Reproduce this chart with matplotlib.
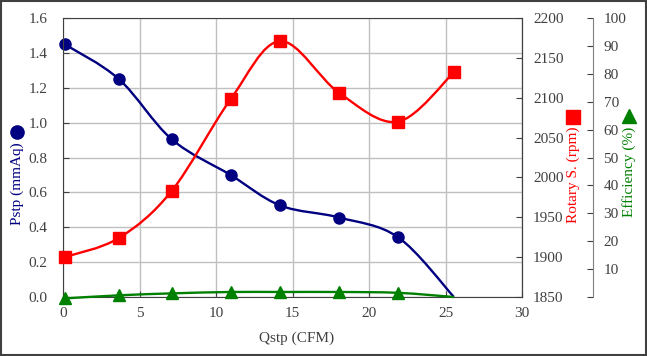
import numpy as np
import matplotlib.pyplot as plt
from matplotlib.path import Path
from matplotlib.patches import PathPatch, Rectangle

plt.rcParams['font.family'] = ['Liberation Serif', 'DejaVu Serif']

# 數據
qstp = [0.1, 3.65, 7.1, 10.95, 14.2, 18.05, 21.9, 25.55]
pstp = [1.45, 1.25, 0.905, 0.70, 0.525, 0.456, 0.343, 0.0]
rpm = [1900, 1924, 1983, 2098, 2171, 2106, 2070, 2132]
eff = [-0.5, 0.6, 1.3, 1.8, 1.8, 1.8, 1.5, 0.0]

NAVY = '#000080'
RED = '#FF0000'
GREEN = '#008000'


# 平滑曲線 (Bezier 路徑)
def smooth_patch(x, y, color, ax):
    pts = np.column_stack([x, y]).astype(float)
    n = len(pts)
    verts = [pts[0]]
    codes = [Path.MOVETO]
    for i in range(n - 1):
        p0 = pts[max(i - 1, 0)]
        p1 = pts[i]
        p2 = pts[i + 1]
        p3 = pts[min(i + 2, n - 1)]
        verts += [p1 + (p2 - p0) / 6, p2 - (p3 - p1) / 6, p2]
        codes += [Path.CURVE4] * 3
    patch = PathPatch(Path(verts, codes), facecolor='none', edgecolor=color,
                      linewidth=1.7, transform=ax.transData, clip_on=False)
    ax.add_patch(patch)


fig = plt.figure(figsize=(6.47, 3.56), dpi=100)
ax = fig.add_axes([0.0974, 0.1657, 0.7094, 0.7836])
ax2 = ax.twinx()
ax3 = ax.twinx()

ax.set_xlim(0, 30)
ax.set_ylim(0, 1.6)
ax.set_xticks(np.arange(0, 31, 5))
ax.set_yticks(np.arange(0, 1.61, 0.2))
ax.set_yticklabels([f'{v:.1f}' for v in np.arange(0, 1.61, 0.2)])
ax.grid(True, color='#c0c0c0', linewidth=1)
ax.set_axisbelow(True)

ax2.set_ylim(1850, 2200)
ax2.set_yticks(np.arange(1850, 2201, 50))

ax3.set_ylim(0, 100)
ax3.set_yticks(np.arange(0, 101, 10))
ax3.set_yticklabels([''] + [str(v) for v in range(10, 101, 10)])
ax3.spines['right'].set_position(('axes', 1.155))
ax3.spines['right'].set_color('#808080')
for a in (ax2, ax3):
    for s in ('left', 'top', 'bottom'):
        a.spines[s].set_visible(False)

for s in ax.spines.values():
    s.set_color('#404040')
ax2.spines['right'].set_color('#404040')

for a in (ax, ax2, ax3):
    a.tick_params(labelsize=11, labelcolor='#404040', direction='in', length=4, color='#404040')
ax.tick_params(axis='x', pad=7)
ax.tick_params(axis='y', pad=11)
ax2.tick_params(axis='y', pad=8)
ax3.tick_params(axis='y', pad=7.5)

# 曲線
smooth_patch(qstp, pstp, NAVY, ax)
smooth_patch(qstp, rpm, RED, ax2)
smooth_patch(qstp, eff, GREEN, ax3)
ax.plot(qstp[:-1], pstp[:-1], 'o', color=NAVY, markersize=8, linestyle='none', clip_on=False)
ax2.plot(qstp, rpm, 's', color=RED, markersize=8, linestyle='none', clip_on=False)
ax3.plot(qstp[:-1], eff[:-1], '^', color=GREEN, markersize=8, linestyle='none', clip_on=False)

# 標籤
fig.text(296.7 / 647, 1 - 338 / 356, 'Qstp (CFM)', fontsize=11, color='#404040', ha='center', va='center')
fig.text(17 / 647, 1 - 184 / 356, 'Pstp (mmAq)', fontsize=11, color=NAVY, rotation=90, ha='center', va='center')
fig.text(573 / 647, 1 - 175 / 356, 'Rotary S. (rpm)', fontsize=11, color=RED, rotation=90, ha='center', va='center')
fig.text(629 / 647, 1 - 172 / 356, 'Efficiency (%)', fontsize=11, color=GREEN, rotation=90, ha='center', va='center')
fig.lines.append(plt.Line2D([17 / 647], [1 - 132 / 356], marker='o', color=NAVY, markersize=9.5,
                            transform=fig.transFigure))
fig.lines.append(plt.Line2D([573 / 647], [1 - 117 / 356], marker='s', color=RED, markersize=9.5,
                            transform=fig.transFigure))
fig.lines.append(plt.Line2D([629 / 647], [1 - 116 / 356], marker='^', color=GREEN, markersize=9.5,
                            transform=fig.transFigure))

# 外框
fig.patches.append(Rectangle((0.001, 0.002), 0.997, 0.996, transform=fig.transFigure,
                             fill=False, edgecolor='#404040', linewidth=1.5))

fig.savefig('out.png', dpi=100)
